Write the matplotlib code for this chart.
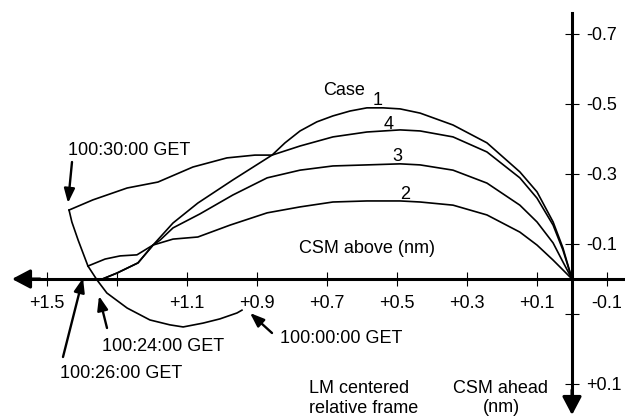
import matplotlib
matplotlib.use("Agg")
import matplotlib.pyplot as plt

plt.rcParams['font.family'] = ['Liberation Sans', 'DejaVu Sans']
plt.rcParams['font.size'] = 13

# relative position of CSM, nm (x: ahead/behind, y: above is negative)
arc_x = [0.943, 0.957, 1.006, 1.054, 1.111, 1.149, 1.206, 1.271, 1.329, 1.357, 1.383, 1.411, 1.429, 1.437]
arc_y = [0.089, 0.097, 0.114, 0.126, 0.137, 0.131, 0.117, 0.083, 0.040, 0.003, -0.037, -0.111, -0.163, -0.197]

case1_x = [1.349, 1.300, 1.240, 1.197, 1.140, 1.069, 0.969, 0.857, 0.820, 0.777, 0.729, 0.683,
           0.634, 0.586, 0.540, 0.491, 0.434, 0.340, 0.243, 0.149, 0.100, 0.054, 0.026, 0.0]
case1_y = [0.003, -0.017, -0.046, -0.097, -0.160, -0.217, -0.283, -0.354, -0.389, -0.423, -0.449, -0.466,
           -0.480, -0.489, -0.489, -0.486, -0.474, -0.440, -0.389, -0.306, -0.249, -0.163, -0.089, 0.0]

case2_x = [1.383, 1.334, 1.291, 1.243, 1.197, 1.140, 1.069, 0.977, 0.871, 0.777, 0.683, 0.586,
           0.491, 0.434, 0.340, 0.243, 0.149, 0.100, 0.054, 0.026, 0.0]
case2_y = [-0.037, -0.057, -0.066, -0.069, -0.097, -0.114, -0.120, -0.154, -0.189, -0.206, -0.220, -0.223,
           -0.223, -0.220, -0.211, -0.183, -0.134, -0.097, -0.054, -0.026, 0.0]

case3_x = [1.349, 1.300, 1.240, 1.197, 1.177, 1.140, 1.063, 0.969, 0.871, 0.777, 0.683, 0.586,
           0.491, 0.434, 0.340, 0.243, 0.149, 0.100, 0.054, 0.026, 0.0]
case3_y = [0.003, -0.017, -0.046, -0.097, -0.111, -0.146, -0.186, -0.240, -0.289, -0.311, -0.323, -0.326,
           -0.329, -0.326, -0.311, -0.274, -0.211, -0.163, -0.103, -0.049, 0.0]

case4_x = [1.437, 1.369, 1.271, 1.183, 1.083, 0.986, 0.906, 0.857, 0.777, 0.683, 0.586, 0.491,
           0.434, 0.340, 0.243, 0.149, 0.100, 0.054, 0.026, 0.0]
case4_y = [-0.197, -0.226, -0.260, -0.277, -0.320, -0.346, -0.354, -0.354, -0.380, -0.406, -0.420, -0.426,
           -0.423, -0.406, -0.363, -0.289, -0.231, -0.154, -0.083, 0.0]

xticks = [1.5, 1.3, 1.1, 0.9, 0.7, 0.5, 0.3, 0.1, -0.1]
xtick_labels = ['+1.5', '', '+1.1', '+0.9', '+0.7', '+0.5', '+0.3', '+0.1', '-0.1']
yticks = [-0.7, -0.5, -0.3, -0.1, 0.1, 0.3]
ytick_labels = ['-0.7', '-0.5', '-0.3', '-0.1', '', '+0.1']


def px(x, y):
    # pixel position of the picture -> data coords
    return (572 - x) / 350.0, (y - 279) / 350.0


fig = plt.figure(figsize=(6.25, 4.16), dpi=100)
ax = fig.add_axes([0, 0, 1, 1])
x0, y0 = px(0, 0)
x1, y1 = px(625, 416)
ax.set_xlim(x0, x1)
ax.set_ylim(y1, y0)

lw = 1.2
ax.plot(arc_x, arc_y, color='k', lw=lw)
ax.plot(case1_x, case1_y, color='k', lw=lw)
ax.plot(case2_x, case2_y, color='k', lw=lw)
ax.plot(case3_x, case3_y, color='k', lw=lw)
ax.plot(case4_x, case4_y, color='k', lw=lw)

# axes through the origin
ax.spines['top'].set_visible(False)
ax.spines['left'].set_visible(False)
ax.spines['bottom'].set_position(('data', 0))
ax.spines['right'].set_position(('data', 0))
ax.spines['bottom'].set_linewidth(2.2)
ax.spines['right'].set_linewidth(2.2)
ax.spines['bottom'].set_bounds(px(30, 0)[0], x1)
ax.spines['right'].set_bounds(px(0, 13)[1], px(0, 400)[1])
ax.xaxis.set_ticks_position('bottom')
ax.yaxis.set_ticks_position('right')
ax.set_xticks(xticks)
ax.set_xticklabels(xtick_labels)
ax.set_yticks(yticks)
ax.set_yticklabels(ytick_labels)
ax.tick_params(axis='x', direction='inout', length=9.5, width=0.8, pad=7, labelsize=13)
ax.tick_params(axis='y', direction='inout', length=9.5, width=0.8, pad=5.4, labelsize=13)
for lab in ax.get_yticklabels():
    lab.set_verticalalignment('center_baseline')

head = dict(arrowstyle='-|>,head_length=1.1,head_width=0.58', color='k', lw=2.2,
            shrinkA=0, shrinkB=0, mutation_scale=10)
ax.annotate('', xy=px(12, 279), xytext=px(40, 279), arrowprops=head)
ax.annotate('', xy=px(572, 415), xytext=px(572, 390), arrowprops=head)

# time marks along the arc
small = dict(arrowstyle='-|>,head_length=0.85,head_width=0.32', color='k', lw=1.7,
             shrinkA=0, shrinkB=0, mutation_scale=10)
ax.annotate('', xy=px(68, 203), xytext=px(72, 162), arrowprops=small)
ax.annotate('', xy=px(83, 278), xytext=px(63, 357), arrowprops=small)
ax.annotate('', xy=px(99, 296), xytext=px(107, 328), arrowprops=small)
ax.annotate('', xy=px(250, 313), xytext=px(272, 333), arrowprops=small)

ax.text(*px(68, 155), '100:30:00 GET', ha='left', va='baseline')
ax.text(*px(60, 378), '100:26:00 GET', ha='left', va='baseline')
ax.text(*px(102, 351), '100:24:00 GET', ha='left', va='baseline')
ax.text(*px(280, 343), '100:00:00 GET', ha='left', va='baseline')

ax.text(*px(299, 253), 'CSM above (nm)', ha='left', va='baseline')
ax.text(*px(309, 393), 'LM centered', ha='left', va='baseline')
ax.text(*px(309, 413), 'relative frame', ha='left', va='baseline')
ax.text(*px(501, 393), 'CSM ahead', ha='center', va='baseline')
ax.text(*px(501, 412), '(nm)', ha='center', va='baseline')

ax.text(*px(323, 95), 'Case', ha='left', va='baseline')
ax.text(*px(378, 105), '1', ha='center', va='baseline')
ax.text(*px(389, 129), '4', ha='center', va='baseline')
ax.text(*px(397, 161), '3', ha='center', va='baseline')
ax.text(*px(405, 199), '2', ha='center', va='baseline')

fig.savefig('out.png', dpi=100)
